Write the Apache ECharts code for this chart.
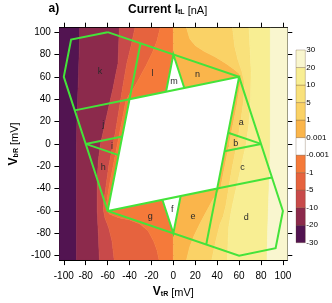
<!DOCTYPE html>
<html><head><meta charset="utf-8">
<script src="https://cdn.jsdelivr.net/npm/echarts@6/dist/echarts.min.js"></script>
<style>html,body{margin:0;padding:0;background:#fff}#c{width:332px;height:303px}</style>
</head><body><div id="c"></div>
<script>
// ---------- data (mV) ----------
// contour boundaries (each traced from top to bottom)
const edgeLeft  = [[-104,104],[-104,-104]];
const cM20 = [[-85.5,104],[-86,80],[-87,50],[-88,20],[-88.5,0],[-88.5,-50],[-88.5,-104]];
const cM10 = [[-49.3,104],[-50.5,72],[-53,60],[-55,50],[-59,33],[-63.5,13],[-66.5,0],[-68.5,-15],[-69.5,-35],[-69.5,-60],[-68.5,-80],[-67.5,-104]];
const cM5  = [[-35,104],[-38.5,88],[-42.5,72],[-45.5,55],[-48,40],[-50.5,25],[-53,10],[-56,-5],[-59,-20],[-61.5,-38],[-63.5,-52],[-64,-58],[-62.5,-66],[-59,-75],[-56,-87],[-54,-104]];
const cM1  = [[-12,104],[-15,92],[-19,82],[-25,70],[-31,59],[-36,50],[-41,43],[-43.5,38],[-46,25],[-49,10],[-52,-5],[-55,-20],[-58,-35],[-60.5,-50],[-61.5,-59],[-58,-63],[-50,-66],[-40,-68],[-30,-72],[-23,-78],[-18,-87],[-15,-95],[-13,-104]];
const cZero = [[0,104],[0,-104]];
const cP1  = [[12,104],[15,94],[20,88],[28,83],[38,78],[48,72],[55,67],[60,63],[62,58],[60.5,50],[58,35],[55,20],[52,5],[49,-10],[46,-25],[43.5,-38],[41,-43],[36,-50],[31,-59],[25,-70],[19,-82],[15,-92],[12,-104]];
const cP5  = [[54,104],[56,87],[59,75],[62.5,65],[65,55],[64,38],[61.5,20],[59,5],[56,-10],[53,-25],[50.5,-40],[48,-55],[45.5,-65],[42.5,-72],[38.5,-88],[35,-104]];
const cP10 = [[69,104],[70,85],[71,65],[70.5,40],[69,18],[66.5,0],[63.5,-13],[59,-33],[55,-50],[52.5,-62],[50.5,-75],[49.3,-104]];
const cP20 = [[88.5,104],[88.5,50],[88.5,0],[88,-20],[87,-50],[86,-80],[85.5,-104]];
const edgeRight = [[104,104],[104,-104]];

// zero-current (white) regions
const zeroDiamond = [[-60,-60],[40,-40],[60,60],[-40,40]];
const zeroTriM = [[0,80],[-6.67,46.67],[10,50]];
const zeroTriF = [[0,-80],[6.67,-46.67],[-10,-50]];

// level labels of the colour bar (bottom to top) and band colours
const levelLabels = ['-30','-20','-10','-5','-1','-0.001','0.001','1','5','10','20','30'];
const bandColors  = ['#521451','#8c2a4c','#c84a4a','#e6633e','#f57a3a','#ffffff','#fab54b','#fad266','#f9e17b','#f8ee93','#f9f6cf'];

// green region boundaries
const outerPoly = [[-60,100],[-93.33,93.33],[-100,60],[-60,-60],[60,-100],[93.33,-93.33],[100,-60],[60,60],[-60,100]];
const diamondPoly = [[-60,-60],[40,-40],[60,60],[-40,40],[-60,-60]];
const innerSegs = [
  [[-90,30],[-40,40]], [[40,-40],[90,-30]],
  [[-30,90],[-40,40]], [[40,-40],[30,-90]],
  [[-80,0],[-46.67,6.67]], [[-80,0],[-50,-10]],
  [[80,0],[46.67,-6.67]], [[80,0],[50,10]],
  [[-6.67,46.67],[0,80],[10,50]],
  [[6.67,-46.67],[0,-80],[-10,-50]]
];
const regionNames = ['a','b','c','d','e','f','g','h','i','j','k','l','m','n'];
const regionX = [62,57,63,66.5,18,-1,-21,-64,-56,-64,-67,-19,0.5,22];
const regionY = [19.5,0.5,-21,-66,-65,-59,-65,-21,-2,17,65,63,56,62];

const ticksMajor = [-100,-80,-60,-40,-20,0,20,40,60,80,100];
const ticksMinor = [-100,-90,-80,-70,-60,-50,-40,-30,-20,-10,0,10,20,30,40,50,60,70,80,90,100];

// ---------- build ----------
const boundaries = [edgeLeft,cM20,cM10,cM5,cM1,cZero,cP1,cP5,cP10,cP20,edgeRight];
const fillColors = bandColors.filter((c,i)=>i!==5);
const bandPolys = [];
for (let i=0;i<boundaries.length-1;i++){
  bandPolys.push(boundaries[i].concat(boundaries[i+1].slice().reverse()));
}
const whitePolys = [zeroDiamond, zeroTriM, zeroTriF];
const greenLines = [outerPoly, diamondPoly].concat(innerSegs);

const FONT = 'Liberation Sans, Arial, Helvetica, sans-serif';
const GREEN = '#44e33a';

function axis(pos, ticks, len, opts){
  return Object.assign({
    type:'value', position:pos, min:-104, max:104, gridIndex:0,
    axisLine:{show:false},
    axisTick:{show:true, inside:false, length:len, customValues:ticks, lineStyle:{color:'#000',width:1}},
    axisLabel:{show:false, customValues:ticks},
    splitLine:{show:false}
  }, opts||{});
}
const lineOn = {show:true, onZero:false, lineStyle:{color:'#000', width:1}};
const labelStyle = (m)=>({show:true, customValues:ticksMajor, color:'#000', fontSize:10, fontFamily:FONT, margin:m});
const nameRich = {
  v:{fontSize:12, fontWeight:'bold', fontFamily:FONT, color:'#000', lineHeight:14, verticalAlign:'bottom'},
  s:{fontSize:7, fontWeight:'bold', fontFamily:FONT, color:'#000', lineHeight:7, verticalAlign:'bottom'},
  n:{fontSize:11, fontWeight:'normal', fontFamily:FONT, color:'#000', lineHeight:14, verticalAlign:'bottom'}
};

const chart = echarts.init(document.getElementById('c'), null, {renderer:'canvas'});
chart.setOption({
  animation:false,
  backgroundColor:'#fff',
  title:[
    {text:'a)', left:48.5, top:3, padding:0, textStyle:{fontSize:12, fontWeight:'bold', fontFamily:FONT, color:'#000'}},
    {text:'{v|Current I}{s|tL}{n| [nA]}', left:128, top:2, padding:0, textStyle:{fontWeight:'normal', rich:nameRich}}
  ],
  grid:[
    {left:48.7, top:27.7, width:238.6, height:238.6, containLabel:false},
    {left:296, top:50, width:12.7, height:192.7, containLabel:false}
  ],
  xAxis:[
    axis('bottom', ticksMajor, 5, {axisLine:lineOn, axisLabel:labelStyle(11),
      name:'{v|V}{s|tR}{n| [mV]}', nameLocation:'middle', nameGap:22.5, nameTextStyle:{rich:nameRich}}),
    axis('bottom', ticksMinor, 3),
    axis('top', ticksMajor, 5, {axisLine:lineOn}),
    axis('top', ticksMinor, 3),
    {type:'value', gridIndex:1, min:0, max:1, show:false}
  ],
  yAxis:[
    axis('left', ticksMajor, 5, {axisLine:lineOn, axisLabel:labelStyle(8.5),
      name:'{v|V}{s|bR}{n| [mV]}', nameLocation:'middle', nameRotate:90, nameGap:35, nameTextStyle:{rich:nameRich}}),
    axis('left', ticksMinor, 3),
    axis('right', ticksMajor, 5, {axisLine:lineOn}),
    axis('right', ticksMinor, 3),
    {type:'value', gridIndex:1, min:0, max:11, position:'right',
     axisLine:{show:false}, axisTick:{show:false}, splitLine:{show:false},
     axisLabel:{show:true, customValues:levelLabels.map((l,i)=>i), formatter:(v)=>levelLabels[v],
       fontSize:8, fontFamily:FONT, color:'#000', margin:1}}
  ],
  series:[
    {type:'custom', xAxisIndex:0, yAxisIndex:0, clip:true, silent:true,
     data: bandPolys.map((p,i)=>[i]),
     renderItem:(params, api)=>{
       const i = api.value(0);
       return {type:'polygon', shape:{points:bandPolys[i].map(p=>api.coord(p))},
               style:{fill:fillColors[i], stroke:fillColors[i], lineWidth:0.6}};
     }},
    {type:'custom', xAxisIndex:0, yAxisIndex:0, clip:true, silent:true,
     data: whitePolys.map((p,i)=>[i]),
     renderItem:(params, api)=>{
       const i = api.value(0);
       return {type:'polygon', shape:{points:whitePolys[i].map(p=>api.coord(p))},
               style:{fill:'#ffffff', stroke:'#ffffff', lineWidth:0.5}};
     }},
    {type:'custom', xAxisIndex:0, yAxisIndex:0, clip:true, silent:true,
     data: greenLines.map((p,i)=>[i]),
     renderItem:(params, api)=>{
       const i = api.value(0);
       return {type:'polyline', shape:{points:greenLines[i].map(p=>api.coord(p))},
               style:{fill:null, stroke:GREEN, lineWidth:2, lineJoin:'miter'}};
     }},
    {type:'custom', xAxisIndex:0, yAxisIndex:0, clip:false, silent:true,
     data: regionNames.map((n,i)=>[regionX[i], regionY[i], i]),
     renderItem:(params, api)=>{
       const c = api.coord([api.value(0), api.value(1)]);
       return {type:'text', x:c[0], y:c[1],
               style:{text:regionNames[api.value(2)], fill:'#2a2a2a', fontSize:9, fontFamily:FONT, align:'center', verticalAlign:'middle'}};
     }},
    {type:'custom', xAxisIndex:4, yAxisIndex:4, clip:false, silent:true,
     data: bandColors.map((c,i)=>[0, i]),
     renderItem:(params, api)=>{
       const i = api.value(1);
       const p0 = api.coord([0, i]);
       const p1 = api.coord([1, i+1]);
       return {type:'rect', shape:{x:p0[0], y:p1[1], width:p1[0]-p0[0], height:p0[1]-p1[1]},
               style:{fill:bandColors[i], stroke:'rgba(90,60,30,0.35)', lineWidth:0.8}};
     }}
  ]
});
</script></body></html>
